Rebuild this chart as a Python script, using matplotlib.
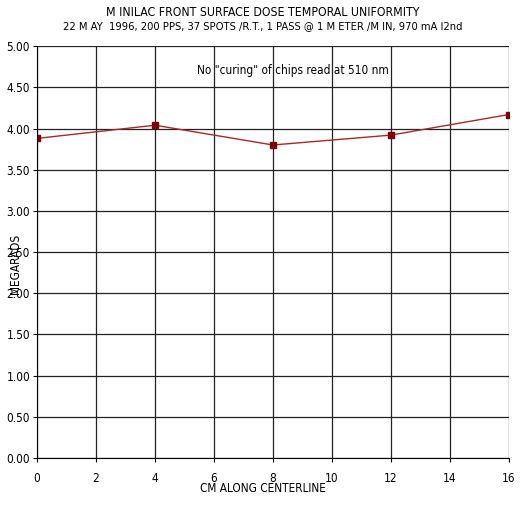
import matplotlib
matplotlib.use("Agg")
import matplotlib.pyplot as plt

plt.rcParams['font.family'] = ['DejaVu Sans']
plt.rcParams['font.stretch'] = 'condensed'

# data
cm = [0, 4, 8, 12, 16]
megarads = [3.88, 4.04, 3.80, 3.92, 4.17]
yticks = [0, 0.5, 1.0, 1.5, 2.0, 2.5, 3.0, 3.5, 4.0, 4.5, 5.0]
xticks = [0, 2, 4, 6, 8, 10, 12, 14, 16]

fig = plt.figure(figsize=(5.25, 5.07), dpi=100)
ax = fig.add_axes([0.0705, 0.0966, 0.899, 0.8124])

ax.plot(cm, megarads, color="#a52a2a", lw=1, marker="s", ms=5,
        markerfacecolor="#800000", markeredgecolor="#800000")

ax.set_xlim(0, 16)
ax.set_ylim(0, 5)
ax.set_xticks(xticks)
ax.set_yticks(yticks)
ax.set_yticklabels(["%.2f" % v for v in yticks])
ax.grid(True, color="#222222", lw=0.9)
ax.set_axisbelow(True)
for s in ["top", "right"]:
    ax.spines[s].set_visible(False)
ax.tick_params(direction="out", length=3, labelsize=8.5, color="black", pad=2)
ax.tick_params(axis="x", pad=7)

ax.text(8.68, 4.71, 'No "curing" of chips read at 510 nm', ha="center", va="center", fontsize=8.5)

fig.text(0.5, 0.976, "M INILAC FRONT SURFACE DOSE TEMPORAL UNIFORMITY", ha="center", va="center", fontsize=8.8)
fig.text(0.5, 0.949, "22 M AY  1996, 200 PPS, 37 SPOTS /R.T., 1 PASS @ 1 M ETER /M IN, 970 mA I2nd",
         ha="center", va="center", fontsize=8)
fig.text(0.5, 0.036, "CM ALONG CENTERLINE", ha="center", va="center", fontsize=8.5)
fig.text(0.029, 0.479, "MEGARADS", ha="center", va="center", rotation=90, fontsize=8.5)

fig.savefig("out.png", dpi=100)
